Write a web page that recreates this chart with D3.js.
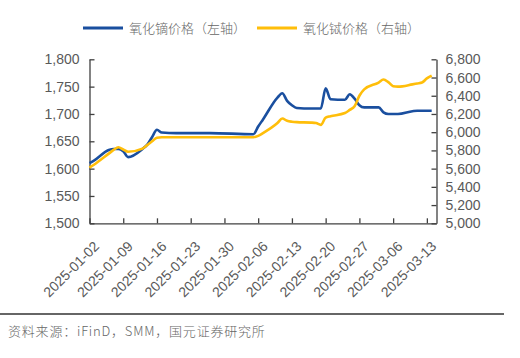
<!DOCTYPE html>
<html><head><meta charset="utf-8">
<script src="https://cdn.jsdelivr.net/npm/d3@7"></script>
<style>body{margin:0;background:#fff}svg{display:block}</style></head>
<body><svg id="c" width="520" height="358"></svg>
<script>
const dates = ["2025-01-02","2025-01-03","2025-01-06","2025-01-07","2025-01-08","2025-01-09","2025-01-10",
"2025-01-13","2025-01-14","2025-01-15","2025-01-16","2025-01-17","2025-01-20","2025-01-21","2025-01-22",
"2025-01-23","2025-01-24","2025-01-27","2025-02-05","2025-02-06","2025-02-07","2025-02-10","2025-02-11",
"2025-02-12","2025-02-13","2025-02-14","2025-02-17","2025-02-18","2025-02-19","2025-02-20","2025-02-21",
"2025-02-24","2025-02-25","2025-02-26","2025-02-27","2025-02-28","2025-03-03","2025-03-04","2025-03-05",
"2025-03-06","2025-03-07","2025-03-10","2025-03-11","2025-03-12","2025-03-13","2025-03-14"];
const dyPrice = [1610,1615,1634,1636,1636,1632,1621,1636,1644,1658,1671,1666,1665,1665,1665,1665,1665,1665,
1663,1677,1690,1730,1738,1724,1716,1711,1710,1710,1710,1747,1727,1726,1736,1728,1716,1712,1712,1703,1700,
1700,1700,1705,1706,1706,1706,1706];
const tbPrice = [5610,5645,5765,5805,5835,5810,5785,5820,5860,5900,5940,5945,5945,5945,5945,5945,5945,5945,
5945,5960,5990,6100,6150,6125,6115,6110,6105,6100,6080,6160,6175,6210,6245,6285,6400,6470,6545,6578,6550,
6505,6500,6525,6535,6545,6590,6620];
const tickDates = ["2025-01-02","2025-01-09","2025-01-16","2025-01-23","2025-01-30","2025-02-06",
"2025-02-13","2025-02-20","2025-02-27","2025-03-06","2025-03-13"];
const xDomain = ["2025-01-02","2025-03-15"];
const leftTicks = [1500,1550,1600,1650,1700,1750,1800];
const rightTicks = [5000,5200,5400,5600,5800,6000,6200,6400,6600,6800];
const seriesNames = ["氧化镝价格（左轴）","氧化铽价格（右轴）"];
const colors = ["#1a4f9f","#ffbe0a"];
const sourceText = "资料来源：iFinD，SMM，国元证券研究所";

const svg = d3.select("#c");
const parse = d3.timeParse("%Y-%m-%d");
const L = 89.5, R = 436.5, T = 59.3, B = 223.3;
const x = d3.scaleTime().domain(xDomain.map(parse)).range([L, R]);
const yL = d3.scaleLinear().domain([1500,1800]).range([B, T]);
const yR = d3.scaleLinear().domain([5000,6800]).range([B, T]);
const fmt = d3.format(",");
const numFont = "'Liberation Sans', Arial, sans-serif";
const axisColor = "#404040", textColor = "#595959";

function styleAxis(g){
  g.select(".domain").attr("stroke", axisColor).attr("stroke-width", 1.3);
  g.selectAll(".tick line").attr("stroke", axisColor).attr("stroke-width", 1.3);
  g.selectAll("text").attr("fill", textColor).attr("font-family", numFont).attr("font-size", 14);
}
const gl = svg.append("g").attr("transform", `translate(${L},0)`)
  .call(d3.axisLeft(yL).tickValues(leftTicks).tickFormat(fmt).tickSizeInner(-5).tickSizeOuter(0).tickPadding(10));
styleAxis(gl);
const gr = svg.append("g").attr("transform", `translate(${R},0)`)
  .call(d3.axisRight(yR).tickValues(rightTicks).tickFormat(fmt).tickSizeInner(-5).tickSizeOuter(0).tickPadding(9));
styleAxis(gr);
const gb = svg.append("g").attr("transform", `translate(0,${B})`)
  .call(d3.axisBottom(x).tickValues(tickDates.map(parse)).tickFormat(d3.timeFormat("%Y-%m-%d")).tickSizeInner(-5).tickSizeOuter(0));
styleAxis(gb);
gb.selectAll(".tick text").attr("text-anchor","end").attr("dy",0).attr("y",0)
  .attr("transform","translate(10,24) rotate(-45)");

const line = (yS, vals) => d3.line().curve(d3.curveMonotoneX)
  .x((d,i)=>x(parse(dates[i]))).y((d)=>yS(d))(vals);
svg.append("path").attr("d", line(yL, dyPrice)).attr("fill","none").attr("stroke",colors[0]).attr("stroke-width",2.6).attr("stroke-linejoin","round");
svg.append("path").attr("d", line(yR, tbPrice)).attr("fill","none").attr("stroke",colors[1]).attr("stroke-width",2.6).attr("stroke-linejoin","round");

const legX = [83, 257];
seriesNames.forEach((n,i)=>{
  svg.append("line").attr("x1",legX[i]).attr("x2",legX[i]+40).attr("y1",28).attr("y2",28)
    .attr("stroke",colors[i]).attr("stroke-width",3);
  svg.append("text").attr("x",legX[i]+46).attr("y",28).attr("dy","0.35em")
    .attr("font-family","'Noto Sans CJK SC', sans-serif").attr("font-weight",300)
    .attr("font-size",13).attr("fill","#666").text(n);
});

svg.append("line").attr("x1",0).attr("x2",504).attr("y1",314).attr("y2",314).attr("stroke","#333").attr("stroke-width",1.3);
svg.append("text").attr("x",8).attr("y",331).attr("dy","0.35em")
  .attr("font-family","'Noto Sans CJK SC', sans-serif").attr("font-weight",300).attr("letter-spacing",0.8)
  .attr("font-size",13).attr("fill","#666").text(sourceText);
</script></body></html>
